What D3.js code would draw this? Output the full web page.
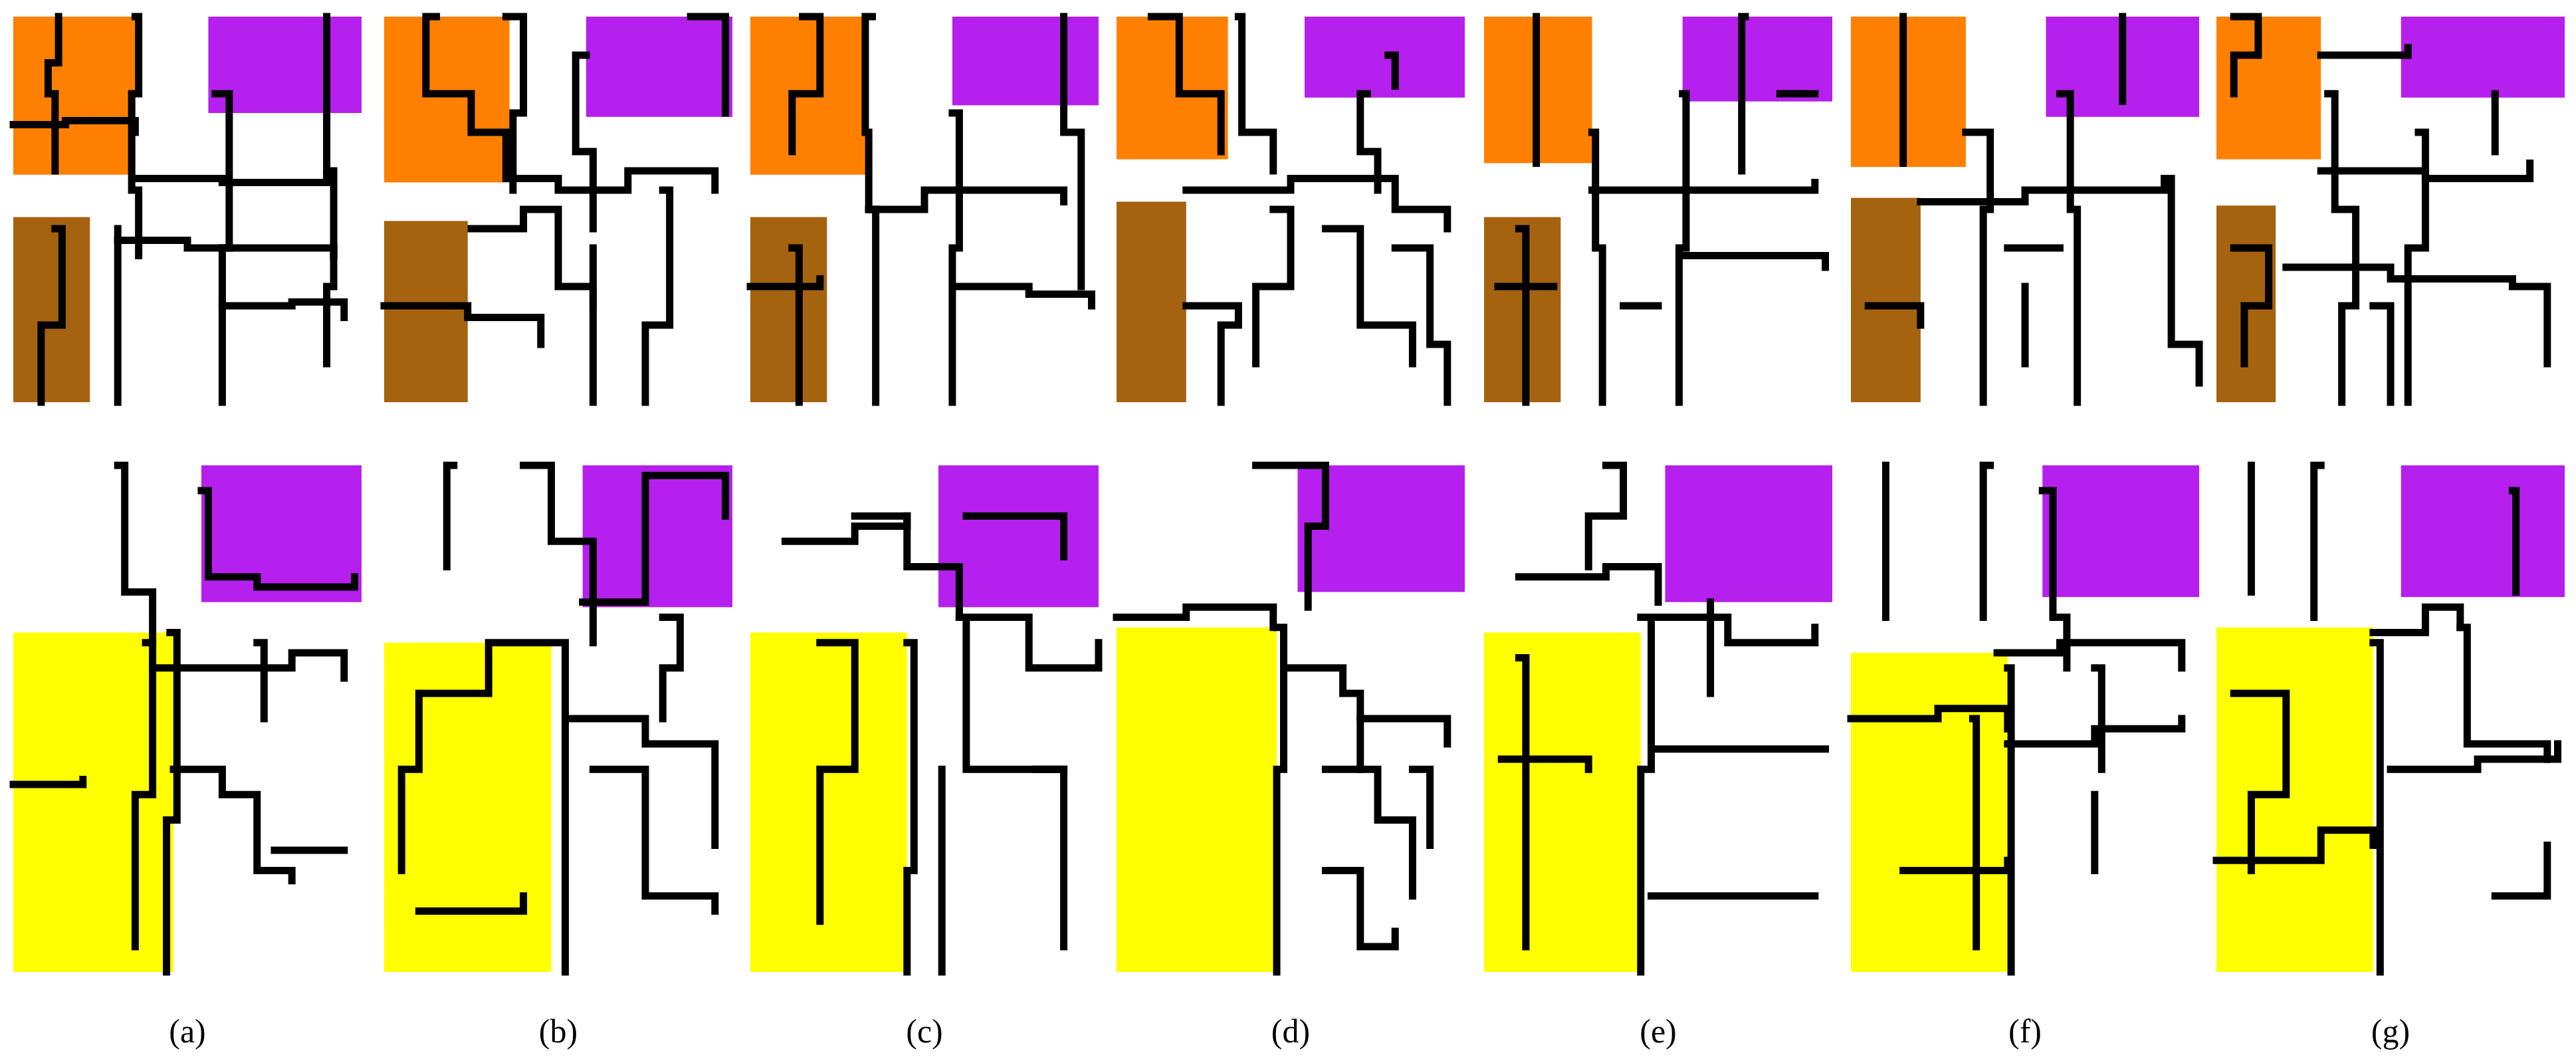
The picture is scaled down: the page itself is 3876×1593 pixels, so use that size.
<!DOCTYPE html><html><head><meta charset="utf-8">
<script src="https://cdn.jsdelivr.net/npm/d3@7"></script>
<style>body{margin:0;background:#fff}</style></head><body>
<svg id="c" width="3876" height="1593"></svg>
<script>
const labels=["(a)","(b)","(c)","(d)","(e)","(f)","(g)"];
// top row blocks: [x0,x1,y0,y1] in panel fractions
const topOrange=[[0,.35,0,.41],[0,.36,0,.43],[0,.34,0,.41],[0,.32,0,.37],[0,.31,0,.38],[0,.33,0,.39],[0,.3,0,.37]];
const topPurple=[[.56,1,0,.25],[.58,1,0,.26],[.58,1,0,.23],[.54,1,0,.21],[.57,1,0,.22],[.56,1,0,.26],[.53,1,0,.21]];
const topBrown=[[0,.22,.52,1],[0,.24,.53,1],[0,.22,.52,1],[0,.2,.48,1],[0,.22,.52,1],[0,.2,.47,1],[0,.17,.49,1]];
const botPurple=[[.54,1,0,.27],[.57,1,0,.28],[.54,1,0,.28],[.52,1,0,.25],[.52,1,0,.27],[.55,1,0,.26],[.53,1,0,.26]];
const botYellow=[[0,.46,.33,1],[0,.48,.35,1],[0,.45,.33,1],[0,.46,.32,1],[0,.45,.33,1],[0,.45,.37,1],[0,.45,.32,1]];
// boundary polylines (panel fractions)
const topLines=[
 [[[.13,0],[.13,.12],[.1,.2],[.12,.4]],[[0,.28],[.15,.27],[.35,.3]],[[.35,0],[.36,.2],[.34,.45],[.36,.62]],[[.36,.42],[.6,.43],[.9,.41]],[[.58,.2],[.62,.3],[.62,.6],[.6,1]],[[.9,0],[.9,.4],[.92,.7],[.9,.9]],[[.3,.58],[.5,.6],[.92,.62]],[[.3,.55],[.3,1]],[[.6,.75],[.8,.74],[.95,.78]],[[.12,.55],[.14,.8],[.08,1]]],
 [[[.15,0],[.12,.2],[.25,.3],[.35,.42]],[[.35,0],[.4,.25],[.37,.45]],[[.58,.1],[.55,.35],[.6,.55]],[[.36,.42],[.5,.45],[.7,.4],[.95,.45]],[[.25,.55],[.4,.5],[.5,.7],[.6,.75]],[[.6,.6],[.6,1]],[[.8,.45],[.82,.8],[.75,1]],[[0,.75],[.24,.78],[.45,.85]],[[.88,0],[.98,.25]]],
 [[[.15,0],[.2,.2],[.12,.35]],[[.35,0],[.33,.3],[.34,.5]],[[.58,.25],[.6,.6],[.58,1]],[[.34,.5],[.5,.45],[.9,.48]],[[.35,.5],[.36,1]],[[.9,0],[.9,.3],[.95,.7]],[[.6,.7],[.8,.72],[.98,.75]],[[.12,.6],[.14,1]],[[0,.7],[.2,.68]]],
 [[[.1,0],[.18,.2],[.3,.35]],[[.35,0],[.36,.3],[.45,.4]],[[.72,.2],[.7,.35],[.75,.45]],[[.2,.45],[.5,.42],[.8,.5],[.95,.55]],[[.45,.5],[.5,.7],[.4,.9]],[[.6,.55],[.7,.8],[.85,.9]],[[.2,.75],[.35,.8],[.3,1]],[[.8,.6],[.9,.85],[.95,1]],[[.78,.1],[.8,.18]]],
 [[[.15,0],[.15,.38]],[[.31,.3],[.32,.6],[.34,1]],[[.57,.2],[.58,.6],[.56,1]],[[.31,.45],[.6,.45],[.95,.43]],[[.75,0],[.74,.4]],[[.04,.7],[.2,.7]],[[.58,.62],[.8,.62],[.98,.65]],[[.1,.55],[.12,1]],[[.85,.2],[.95,.2]],[[.4,.75],[.5,.75]]],
 [[[.15,0],[.15,.38]],[[.33,.3],[.4,.5],[.38,1]],[[.6,.2],[.63,.5],[.65,1]],[[.2,.48],[.5,.45],[.9,.42]],[[.78,0],[.78,.22]],[[.9,.42],[.92,.85],[1,.95]],[[.45,.6],[.6,.6]],[[.05,.75],[.2,.8]],[[.5,.7],[.5,.9]]],
 [[[.05,0],[.12,.1],[.05,.2]],[[.3,.1],[.55,.08]],[[.32,.2],[.34,.5],[.4,.75],[.36,1]],[[.3,.4],[.6,.42],[.9,.38]],[[.58,.3],[.6,.6],[.55,1]],[[.2,.65],[.5,.68],[.85,.7],[.95,.9]],[[.05,.6],[.15,.75],[.08,.9]],[[.45,.75],[.5,1]],[[.8,.2],[.8,.35]]]
];
const botLines=[
 [[[.3,0],[.32,.25],[.4,.35]],[[.54,.05],[.56,.22],[.7,.24],[.98,.22]],[[.45,.33],[.47,.7],[.44,1]],[[.4,.4],[.8,.37],[.95,.42]],[[.7,.35],[.72,.5]],[[.46,.6],[.6,.65],[.7,.8],[.8,.82]],[[0,.63],[.2,.62]],[[.38,.35],[.4,.65],[.35,.95]],[[.75,.76],[.95,.76]]],
 [[[.2,0],[.18,.2]],[[.4,0],[.48,.15],[.6,.35]],[[.57,.27],[.75,.02],[.98,.1]],[[.5,.35],[.52,1]],[[.48,.35],[.3,.45],[.1,.6],[.05,.8]],[[.1,.88],[.4,.85]],[[.52,.5],[.75,.55],[.95,.75]],[[.6,.6],[.75,.85],[.95,.88]],[[.8,.3],[.85,.4],[.8,.5]]],
 [[[.1,.15],[.3,.12],[.45,.1]],[[.3,.1],[.45,.2],[.6,.3]],[[.45,.35],[.47,.8],[.45,1]],[[.6,.3],[.62,.6],[.9,.6]],[[.6,.3],[.8,.4],[1,.35]],[[.2,.35],[.3,.6],[.2,.9]],[[.62,.1],[.9,.18]],[[.55,.6],[.55,1]],[[.82,.6],[.9,.95]]],
 [[[.4,0],[.6,.12],[.55,.28]],[[0,.3],[.2,.28],[.45,.32]],[[.46,.32],[.48,.6],[.46,1]],[[.5,.4],[.65,.45],[.7,.6]],[[.6,.6],[.75,.7],[.85,.85]],[[.7,.5],[.95,.55]],[[.6,.8],[.7,.95],[.8,.92]],[[.85,.6],[.9,.75]]],
 [[[.35,0],[.4,.1],[.3,.2]],[[.1,.22],[.35,.2],[.5,.27]],[[.45,.3],[.48,.6],[.45,1]],[[.5,.3],[.7,.35],[.95,.32]],[[.65,.27],[.65,.45]],[[.48,.56],[.75,.56],[.98,.56]],[[.05,.58],[.3,.6]],[[.1,.38],[.12,.95]],[[.48,.85],[.95,.85]]],
 [[[.1,0],[.1,.3]],[[.4,0],[.38,.3]],[[.55,.05],[.58,.3],[.62,.4]],[[.42,.37],[.6,.35],[.95,.4]],[[.45,.4],[.46,1]],[[.7,.4],[.72,.6]],[[0,.5],[.25,.48],[.45,.52]],[[.45,.55],[.7,.52],[.95,.5]],[[.35,.5],[.36,.95]],[[.7,.65],[.7,.8]],[[.15,.8],[.45,.78]]],
 [[[.1,0],[.1,.25]],[[.3,0],[.28,.3]],[[.85,.05],[.86,.25]],[[.45,.33],[.6,.28],[.7,.32]],[[.7,.32],[.72,.55],[.95,.58]],[[.45,.35],[.47,1]],[[.5,.6],[.75,.58],[.98,.55]],[[.05,.45],[.2,.65],[.1,.8]],[[0,.78],[.3,.72],[.45,.75]],[[.8,.85],[.95,.75]]]
];
const svg=d3.select("#c");
const cols=[20,578,1129,1680,2233,2785,3335], W=524;
const rows=[{y:25,h:580},{y:700,h:762}];
const line=d3.line().curve(d3.curveStepAfter);
function drawPanel(i,r,blocks,lines){
  const x=d3.scaleLinear().domain([0,1]).range([cols[i],cols[i]+W]);
  const y=d3.scaleLinear().domain([0,1]).range([r.y,r.y+r.h]);
  const g=svg.append("g");
  g.selectAll("rect.b").data(blocks).join("rect").attr("x",d=>x(d.r[0])).attr("y",d=>y(d.r[2]))
   .attr("width",d=>x(d.r[1])-x(d.r[0])).attr("height",d=>y(d.r[3])-y(d.r[2])).attr("fill",d=>d.c);
  line.x(d=>x(d[0])).y(d=>y(d[1]));
  g.selectAll("path").data(lines).join("path").attr("d",line).attr("fill","none").attr("stroke","#000").attr("stroke-width",11).attr("stroke-linecap","square");
}
for(let i=0;i<7;i++){
  drawPanel(i,rows[0],[{r:topOrange[i],c:"#FF8000"},{r:topPurple[i],c:"#B620EE"},{r:topBrown[i],c:"#A5620F"}],topLines[i]);
  drawPanel(i,rows[1],[{r:botPurple[i],c:"#B620EE"},{r:botYellow[i],c:"#FFFF00"}],botLines[i]);
  svg.append("text").attr("x",cols[i]+W/2).attr("y",1568).attr("text-anchor","middle")
   .attr("font-family","Liberation Serif, serif").attr("font-size",50).text(labels[i]);
}
</script></body></html>
